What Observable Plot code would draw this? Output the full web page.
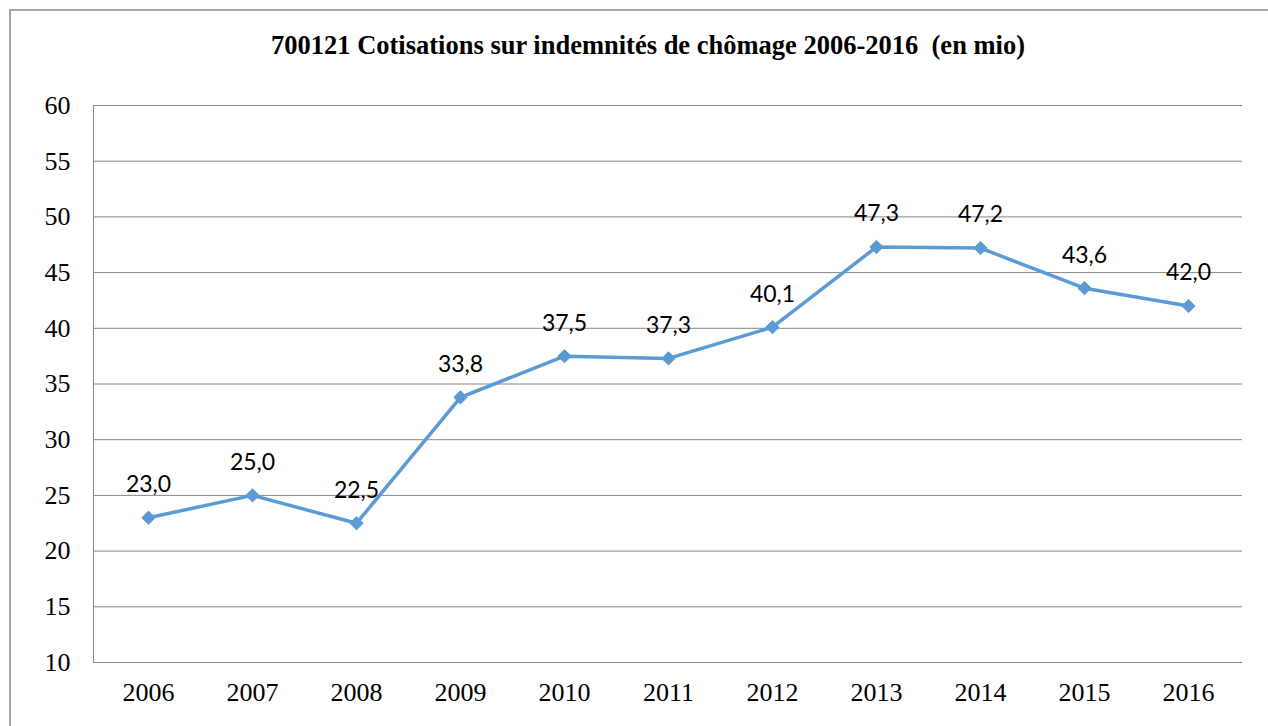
<!DOCTYPE html>
<html>
<head>
<meta charset="utf-8">
<script src="https://cdn.jsdelivr.net/npm/d3@7"></script>
<script src="https://cdn.jsdelivr.net/npm/@observablehq/plot@0.6"></script>
<style>
  html, body { margin: 0; padding: 0; background: #fff; overflow: hidden; }
  #wrap { position: relative; width: 1268px; height: 726px; }
  #border { position: absolute; left: 9px; top: 9px; width: 1270px; height: 730px; border: 2px solid #a6a6a6; box-sizing: border-box; pointer-events: none; }
  #chart { position: absolute; left: 0; top: 0; }
</style>
</head>
<body>
<div id="wrap"><div id="chart"></div><div id="border"></div></div>
<script>
const title = "700121 Cotisations sur indemnités de chômage 2006-2016  (en mio)";
const years = ["2006","2007","2008","2009","2010","2011","2012","2013","2014","2015","2016"];
const values = [23.0, 25.0, 22.5, 33.8, 37.5, 37.3, 40.1, 47.3, 47.2, 43.6, 42.0];
const yTicks = [10, 15, 20, 25, 30, 35, 40, 45, 50, 55, 60];

const data = years.map((y, i) => ({year: y, value: values[i]}));
const fmt = v => v.toFixed(1).replace(".", ",");
const blue = "#5B9BD5";

const chart = Plot.plot({
  width: 1268,
  height: 726,
  marginLeft: 93,
  marginRight: 26,
  marginTop: 105,
  marginBottom: 64,
  style: {background: "transparent", overflow: "visible", fontFamily: "'Liberation Serif', 'Times New Roman', serif", fontSize: "26px", color: "#000"},
  x: {type: "point", domain: years, padding: 0.5, label: null},
  y: {domain: [10, 60], label: null},
  marks: [
    Plot.gridY(yTicks, {stroke: "#868686", strokeOpacity: 1, strokeWidth: 1}),
    Plot.frame({anchor: "left", stroke: "#868686"}),
    Plot.axisY(yTicks, {tickSize: 0, tickPadding: 23, fontSize: 26, fill: "#000", label: null}),
    Plot.axisX({tickSize: 0, tickPadding: 20, fontSize: 26, fill: "#000", label: null}),
    Plot.line(data, {x: "year", y: "value", stroke: blue, strokeWidth: 3.5}),
    Plot.dot(data, {x: "year", y: "value", symbol: "diamond2", r: 6, fill: blue, stroke: blue, strokeWidth: 1}),
    Plot.text(data, {x: "year", y: "value", text: d => fmt(d.value), dy: -33, fontSize: 23, fontFamily: "Lato", fill: "#000"}),
    Plot.text([title], {frameAnchor: "top", lineAnchor: "middle", dx: -20, dy: -60, fontSize: 26.5, fontWeight: "bold", fontFamily: "'Liberation Serif', serif", fill: "#000"})
  ]
});
document.getElementById("chart").appendChild(chart);
</script>
</body>
</html>
